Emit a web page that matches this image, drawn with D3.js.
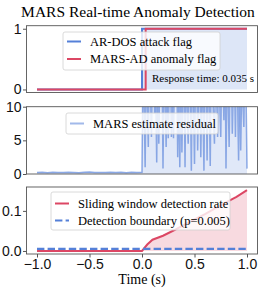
<!DOCTYPE html>
<html>
<head>
<meta charset="utf-8">
<script src="https://cdn.jsdelivr.net/npm/d3@7"></script>
<style>
  body { margin: 0; background: #fff; }
  svg { display: block; font-family: "Liberation Serif", "DejaVu Serif", serif; }
  .spine { fill: none; stroke: #555; stroke-width: 0.9; }
  .tick line { stroke: #555; }
  .tick text { font-size: 14px; fill: #111; }
  .domain { display: none; }
</style>
</head>
<body>
<div id="chart"></div>
<script>
// panel 1: step flags
const attackTime = [-1.0, 0.0, 1.0];
const attackFlag = [0, 1, 1];
const anomalyTime = [-1.0, 0.035, 1.0];
const anomalyFlag = [0, 1, 1];

// panel 2: residual (clipped at 10 by the axis)
const residualPreTime = d3.range(-1.0, 0.001, 0.05);
const residualPre = [0.22, 0.25, 0.2, 0.27, 0.23, 0.21, 0.26, 0.24, 0.2, 0.25, 0.28,
                     0.22, 0.24, 0.21, 0.26, 0.23, 0.25, 0.2, 0.27, 0.24, 0.25];
const residualPostTime = d3.range(1, 101).map(i => i / 100);
const residualPost = [
  18, 11, 1.0, 16, 12, 4.0, 19, 13, 5.5, 17,
  22, 9, 14, 1.7, 20, 4.5, 15, 11, 18, 0.8,
  16, 12, 4.0, 19, 5.3, 14, 21, 5.5, 13, 5.3,
  17, 12, 20, 2.5, 15, 1.0, 18, 3.2, 13, 16,
  1.0, 22, 10, 4.5, 17, 14, 0.5, 19, 12, 1.5,
  16, 20, 3.5, 13, 18, 2.5, 15, 11, 0.5, 21,
  14, 2.0, 17, 12, 1.2, 19, 15, 9, 4.5, 16,
  13, 5.5, 20, 11, 5.5, 18, 14, 8, 22, 0.8,
  15, 12, 4.0, 17, 19, 6.0, 13, 16, 5.5, 21,
  12, 2.0, 18, 3.5, 14, 11, 7.0, 20, 13, 0.8
];

// panel 3: sliding window detection rate
const rateTime = [-1.0, 0.0, 0.05, 0.1, 0.2, 0.3, 0.4, 0.5, 0.6, 0.7, 0.8, 0.9, 1.0];
const rateValue = [0, 0, 0.016, 0.028, 0.038, 0.051, 0.065, 0.079, 0.092, 0.107, 0.121, 0.135, 0.152];
const boundary = 0.005;

const xTicks = [-1.0, -0.5, 0.0, 0.5, 1.0];
const blue = "#5580d8";
const red = "#dc4764";

const W = 262, H = 292;
const left = 26.5, right = 257.5;

const svg = d3.select("#chart").append("svg")
    .attr("width", W).attr("height", H);

const x = d3.scaleLinear().domain([-1.1, 1.1]).range([left, right]);

svg.append("text")
    .attr("x", 138).attr("y", 16.5)
    .attr("text-anchor", "middle")
    .attr("font-size", 15.5)
    .text("MARS Real-time Anomaly Detection");

function panel(top, bottom, domain, ticks, fmt, id) {
    const y = d3.scaleLinear().domain(domain).range([bottom, top]);
    const g = svg.append("g");
    g.append("clipPath").attr("id", id)
      .append("rect").attr("x", left).attr("y", top)
      .attr("width", right - left).attr("height", bottom - top);
    const plot = g.append("g").attr("clip-path", `url(#${id})`);
    g.append("g")
        .attr("transform", `translate(${left},0)`)
        .call(d3.axisLeft(y).tickValues(ticks).tickFormat(fmt).tickSize(3.5).tickPadding(1.5));
    return { y, g, plot, top, bottom };
}

function frame(p) {
    p.g.append("rect").attr("class", "spine")
        .attr("x", left).attr("y", p.top)
        .attr("width", right - left).attr("height", p.bottom - p.top);
}

function legend(g, bx, by, bw, bh, items) {
    g.append("rect")
        .attr("x", bx).attr("y", by).attr("width", bw).attr("height", bh)
        .attr("rx", 2)
        .attr("fill", "rgba(255,255,255,0.8)")
        .attr("stroke", "#d0d0d0").attr("stroke-width", 0.8);
    items.forEach(it => {
        g.append("line")
            .attr("x1", bx + 4).attr("x2", bx + 18)
            .attr("y1", it.y).attr("y2", it.y)
            .attr("stroke", it.color).attr("stroke-width", it.width || 2)
            .attr("stroke-opacity", it.opacity || 1)
            .attr("stroke-dasharray", it.dash || null);
        g.append("text")
            .attr("x", bx + 27).attr("y", it.y)
            .attr("dy", "0.33em")
            .attr("font-size", 12.5)
            .text(it.label);
    });
}

// ---- panel 1
const p1 = panel(25.7, 92.5, [-0.05, 1.05], [0, 1], d3.format("d"), "c1");
const attack = attackTime.map((t, i) => ({ t, v: attackFlag[i] }));
const anomaly = anomalyTime.map((t, i) => ({ t, v: anomalyFlag[i] }));

p1.plot.append("path").datum(attack)
    .attr("fill", blue).attr("fill-opacity", 0.2)
    .attr("d", d3.area().curve(d3.curveStepAfter).x(d => x(d.t)).y0(p1.y(0)).y1(d => p1.y(d.v)));
const stepLine = y => d3.line().curve(d3.curveStepAfter).x(d => x(d.t)).y(d => y(d.v));
p1.plot.append("path").datum(attack)
    .attr("fill", "none").attr("stroke", blue).attr("stroke-width", 2)
    .attr("d", stepLine(p1.y));
p1.plot.append("path").datum(anomaly)
    .attr("fill", "none").attr("stroke", red).attr("stroke-width", 2)
    .attr("d", stepLine(p1.y));
legend(p1.g, 63, 32, 157, 38, [
    { label: "AR-DOS attack flag", color: blue, y: 41.5 },
    { label: "MARS-AD anomaly flag", color: red, y: 59 }
]);
p1.g.append("text")
    .attr("x", 254).attr("y", 82)
    .attr("text-anchor", "end")
    .attr("font-size", 11)
    .text("Response time: 0.035 s");
frame(p1);

// ---- panel 2
const p2 = panel(106.7, 174, [0, 10], [0, 5, 10], d3.format("d"), "c2");
const residual = residualPreTime.map((t, i) => ({ t, v: residualPre[i] }))
    .concat(residualPostTime.map((t, i) => ({ t, v: residualPost[i] })));
p2.plot.append("path").datum(residual)
    .attr("fill", blue).attr("fill-opacity", 0.18)
    .attr("d", d3.area().x(d => x(d.t)).y0(p2.y(0)).y1(d => p2.y(d.v)));
p2.plot.append("path").datum(residual)
    .attr("fill", "none").attr("stroke", blue).attr("stroke-opacity", 0.65)
    .attr("stroke-width", 1.5)
    .attr("d", d3.line().x(d => x(d.t)).y(d => p2.y(d.v)));
legend(p2.g, 66, 113, 152, 21, [
    { label: "MARS estimate residual", color: blue, opacity: 0.55, y: 123.5 }
]);
frame(p2);

// ---- panel 3
const rmax = d3.max(rateValue);
const p3 = panel(187, 254, [-0.05 * rmax, 1.05 * rmax], [0, 0.1], d3.format(".1f"), "c3");
const rate = rateTime.map((t, i) => ({ t, v: rateValue[i] }));
p3.plot.append("path").datum(rate)
    .attr("fill", red).attr("fill-opacity", 0.2)
    .attr("d", d3.area().x(d => x(d.t)).y0(p3.y(0)).y1(d => p3.y(d.v)));
p3.plot.append("path").datum(rate)
    .attr("fill", "none").attr("stroke", red).attr("stroke-width", 2)
    .attr("d", d3.line().x(d => x(d.t)).y(d => p3.y(d.v)));
p3.plot.append("path").datum([-1, 1])
    .attr("fill", "none").attr("stroke", blue).attr("stroke-width", 2.2)
    .attr("stroke-dasharray", "7.4,3.2")
    .attr("d", d3.line().x(d => x(d)).y(() => p3.y(boundary)));
legend(p3.g, 51, 192, 179, 38, [
    { label: "Sliding window detection rate", color: red, y: 203.5 },
    { label: "Detection boundary (p=0.005)", color: blue, dash: "7.4,3.2", y: 220.5 }
]);
frame(p3);

svg.append("g")
    .attr("transform", `translate(0,254)`)
    .call(d3.axisBottom(x).tickValues(xTicks).tickSize(3.5).tickPadding(2)
        .tickFormat(d => d3.format(".1f")(d).replace("-", "\u2212")));

svg.append("text")
    .attr("x", 142).attr("y", 284)
    .attr("text-anchor", "middle")
    .attr("font-size", 14)
    .text("Time (s)");
</script>
</body>
</html>
